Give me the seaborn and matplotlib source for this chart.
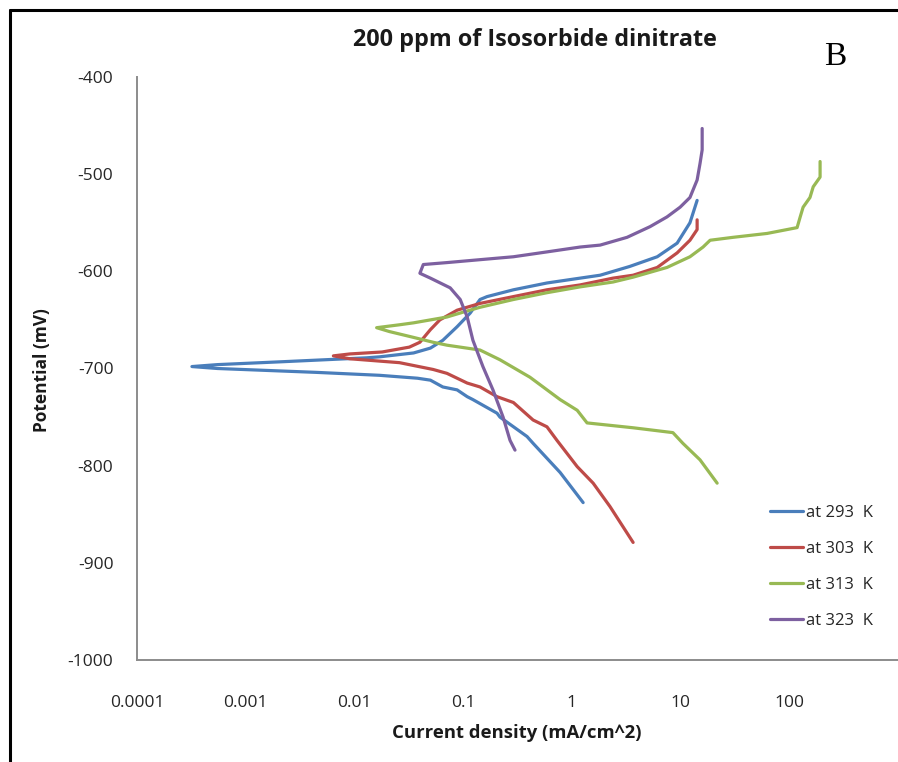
import matplotlib
matplotlib.use("Agg")
import matplotlib.pyplot as plt
from matplotlib.lines import Line2D
import pandas as pd
import seaborn as sns

# ── Data: Tafel curves (current mA/cm^2, potential mV) ──
I_293 = [14.2, 12.2, 9.3, 6.1, 3.4, 1.82, 1.19, 0.59, 0.29, 0.166, 0.143, 0.116,
         0.088, 0.065, 0.050, 0.035, 0.017, 0.013, 0.0022, 0.00055, 0.00032,
         0.00055, 0.0045, 0.017, 0.038, 0.050, 0.065, 0.088, 0.109, 0.123,
         0.205, 0.218, 0.387, 0.44, 0.78, 1.27]
E_293 = [-527, -550, -571, -585, -595, -604, -607, -612, -619, -626, -629, -643,
         -657, -671, -679, -684, -688, -689, -693, -696, -698,
         -700, -704, -707, -710, -712, -719, -722, -729, -732,
         -746, -750, -770, -777, -807, -838]

I_303 = [14.2, 14.2, 12.2, 9.3, 6.1, 3.66, 2.39, 1.19, 0.59, 0.29, 0.143, 0.088,
         0.061, 0.050, 0.040, 0.032, 0.018, 0.0091, 0.0064, 0.0091, 0.026,
         0.053, 0.071, 0.109, 0.143, 0.205, 0.29, 0.44, 0.59, 0.73, 1.12,
         1.57, 2.24, 3.66]
E_303 = [-547, -557, -568, -581, -596, -604, -607, -614, -619, -626, -633, -640,
         -650, -660, -673, -678, -683, -685, -687, -690, -694,
         -701, -705, -715, -719, -729, -735, -753, -760, -774, -801,
         -818, -842, -879]

I_313 = [192, 192, 166, 155, 134, 126, 118, 62.5, 30.4, 18.7, 16.1, 12.2, 7.5,
         3.66, 2.39, 1.19, 0.59, 0.29, 0.143, 0.10, 0.071, 0.035, 0.026, 0.016,
         0.021, 0.035, 0.053, 0.071, 0.143, 0.218, 0.412, 0.78, 1.12, 1.38,
         3.66, 8.5, 10.5, 15.1, 21.7]
E_313 = [-487, -503, -513, -524, -534, -544, -555, -561, -565, -568, -575, -585, -596,
         -606, -611, -616, -622, -629, -637, -642, -647, -653, -655, -658,
         -662, -668, -673, -676, -681, -691, -709, -732, -743, -756,
         -761, -766, -777, -794, -818]

I_323 = [15.8, 15.8, 15.1, 14.2, 12.2, 9.9, 7.5, 5.24, 3.22, 1.82, 1.19, 0.59,
         0.29, 0.143, 0.071, 0.043, 0.040, 0.050, 0.076, 0.094, 0.109, 0.123,
         0.152, 0.188, 0.233, 0.270, 0.300]
E_323 = [-453, -475, -489, -506, -524, -534, -544, -554, -565, -573, -575, -580,
         -585, -588, -591, -593, -602, -607, -617, -629, -647, -671,
         -698, -722, -750, -774, -784]

SERIES = ["at 293  K", "at 303  K", "at 313  K", "at 323  K"]
PALETTE = {"at 293  K": "#4A7EBB", "at 303  K": "#BE4B48",
           "at 313  K": "#98B954", "at 323  K": "#7D60A0"}
X_TICKS = [1e-4, 1e-3, 1e-2, 1e-1, 1, 10, 100]
X_TICKLABELS = ["0.0001", "0.001", "0.01", "0.1", "1", "10", "100"]
Y_TICKS = [-400, -500, -600, -700, -800, -900, -1000]

# ── long table for seaborn ──────────────────────────────────────────────
frames = []
for name, i_vals, e_vals in zip(SERIES, [I_293, I_303, I_313, I_323],
                                [E_293, E_303, E_313, E_323]):
    frames.append(pd.DataFrame({"I": i_vals, "E": e_vals, "series": name}))
df = pd.concat(frames, ignore_index=True)

# ── Style ───────────────────────────────────────────────────────────────
sns.set_style("white")
plt.rcParams["font.family"] = ["Open Sans", "DejaVu Sans"]
plt.rcParams["axes.unicode_minus"] = False

W, H = 898, 762
fig = plt.figure(figsize=(W / 100, H / 100), dpi=100)
ax = fig.add_axes([137 / W, 1 - 660 / H, 1 - 137 / W, (660 - 77) / H])

sns.lineplot(data=df, x="I", y="E", hue="series", hue_order=SERIES,
             palette=PALETTE, sort=False, estimator=None, linewidth=2.3,
             ax=ax)

ax.set_xscale("log")
ax.set_xlim(1e-4, 1e3)
ax.set_ylim(-1000, -400)
ax.set_xticks(X_TICKS)
ax.set_xticklabels(X_TICKLABELS)
ax.xaxis.set_minor_locator(matplotlib.ticker.NullLocator())
ax.set_yticks(Y_TICKS)
ax.tick_params(axis="both", length=0, labelsize=12.5, colors="#262626")
ax.tick_params(axis="x", pad=25)
ax.tick_params(axis="y", pad=17)

for side in ["top", "right"]:
    ax.spines[side].set_visible(False)
for side in ["left", "bottom"]:
    ax.spines[side].set_color("#8c8c8c")
    ax.spines[side].set_linewidth(1.4)

ax.set_xlabel("")
ax.set_ylabel("")
fig.text(517 / W, 1 - 733 / H, "Current density (mA/cm^2)", ha="center",
         va="center", fontsize=13.3, fontweight="bold", color="#1a1a1a")
fig.text(42 / W, 1 - 370 / H, "Potential (mV)", ha="center", va="center",
         rotation=90, fontsize=12.5, fontweight="bold", color="#1a1a1a")
fig.text(535 / W, 1 - 40 / H, "200 ppm of Isosorbide dinitrate", ha="center",
         va="center", fontsize=16.8, fontweight="bold", color="#1a1a1a")
fig.text(835 / W, 1 - 57 / H, "B", ha="center", va="center", fontsize=24,
         family="Liberation Serif", color="black")

# legend
handles, labels = ax.get_legend_handles_labels()
ax.legend(handles, labels, loc="upper left",
          bbox_to_anchor=(770 / W, 1 - 505 / H), bbox_transform=fig.transFigure,
          frameon=False, fontsize=12, handlelength=2.0, handletextpad=0.15,
          labelspacing=1.2, borderpad=0, borderaxespad=0)

# outer frame (left and top edges of the panel)
fig.add_artist(Line2D([10 / W, 10 / W], [0, 1 - 10 / H], transform=fig.transFigure,
                      color="black", linewidth=2.2))
fig.add_artist(Line2D([10 / W, 1], [1 - 10 / H, 1 - 10 / H], transform=fig.transFigure,
                      color="black", linewidth=2.2))

fig.savefig("out.png", dpi=100)
plt.close()
